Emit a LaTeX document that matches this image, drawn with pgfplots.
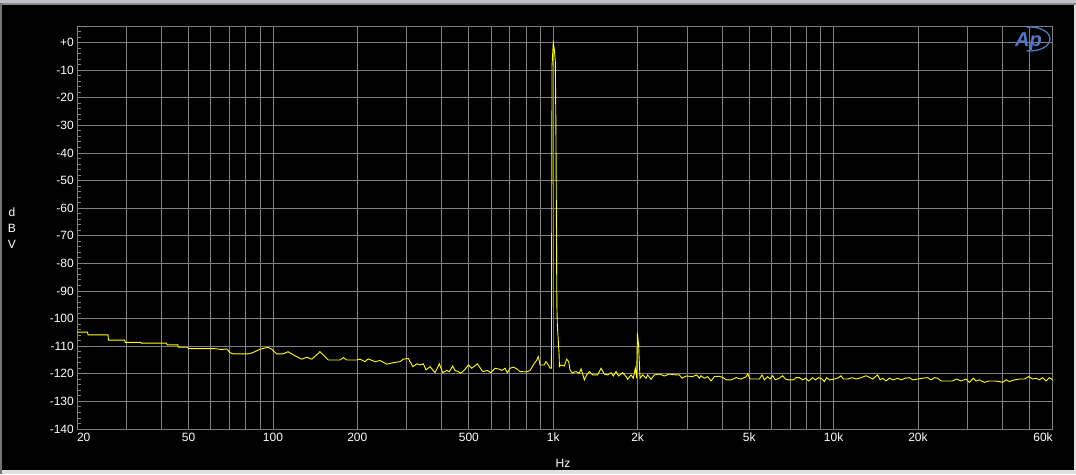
\documentclass[border=0pt]{standalone}
\usepackage{fontspec}
\setmainfont{Liberation Sans}
\usepackage{pgfplots}
\pgfplotsset{compat=1.18}
\definecolor{apblue}{RGB}{80,120,200}
\definecolor{gridgray}{RGB}{128,128,128}
\definecolor{trace}{RGB}{255,255,0}
\begin{document}
\begin{tikzpicture}[x=1pt,y=1pt]
\path[use as bounding box] (0,0) rectangle (1076,474);
\fill[gray!25] (0,0) rectangle (1076,474);
\fill[black!55] (0,0) rectangle (2,474);
\fill[black] (2,4) rectangle (1074,469);
\fill[black!45] (2,469) rectangle (1076,471);
\fill[blue!10!gray!45] (0,471) rectangle (1076,474);
\begin{axis}[
  at={(77pt,45pt)}, anchor=south west,
  scale only axis, width=975.7pt, height=403pt,
  xmode=log, xmin=20, xmax=60500, ymin=-140, ymax=6,
  axis background/.style={fill=black},
  axis line style={gridgray, line width=0.9pt},
  xtick={20,50,100,200,500,1000,2000,5000,10000,20000,60500},
  xticklabels={\makebox[0pt][l]{20},50,100,200,500,1k,2k,5k,10k,20k,\makebox[0pt][r]{60k}},
  minor xtick={30,40,60,70,80,90,300,400,600,700,800,900,3000,4000,6000,7000,8000,9000,30000,40000,50000},
  ytick={-140,-130,-120,-110,-100,-90,-80,-70,-60,-50,-40,-30,-20,-10,0},
  yticklabels={-140,-130,-120,-110,-100,-90,-80,-70,-60,-50,-40,-30,-20,-10,+0},
  minor ytick={-138,-136,...,6},
  xmajorgrids, xminorgrids, ymajorgrids,
  major grid style={gridgray, line width=0.9pt},
  minor grid style={gridgray, line width=0.9pt},
  tick pos=left, tick align=inside,
  major tick length=0pt, minor tick length=4pt,
  tick style={gridgray, line width=0.9pt},
  tick label style={text=white, font=\fontsize{12}{14}\selectfont, inner sep=0pt},
  yticklabel style={xshift=-3pt},
  xticklabel style={yshift=-4pt},
  clip=true,
]
\addplot[trace, line width=0.9pt, no markers] table {
f dB
20 -104.9
21.8 -104.9
21.9 -105.9
25.8 -105.9
25.9 -107.8
29.6 -107.8
29.7 -108.6
33.8 -108.6
33.9 -108.9
41.7 -108.9
41.9 -109.5
45.8 -109.5
46.0 -110.4
49.7 -110.4
49.9 -110.9
62.1 -110.9
65.7 -111.2
68.4 -111.0
70.3 -112.3
72 -112.8
81.5 -112.8
84.9 -112.3
89.9 -111.1
96.0 -110.4
99.0 -111.1
103.1 -112.8
108.6 -112.8
113.2 -112.0
119.9 -113.5
126.7 -114.7
132.0 -114.0
137.5 -114.7
145.2 -112.6
147 -112.0
151.3 -113.2
157.6 -115.0
173.5 -115.0
178.3 -114.1
183.3 -115.0
199.0 -115.0
204.5 -114.7
213.1 -115.6
218.4 -114.6
231.3 -115.6
241.0 -115.2
254.6 -116.5
268.1 -116.0
284.0 -115.6
291.8 -114.7
304.1 -114.4
315.3 -117.4
325.8 -116.4
334.8 -116.8
343.9 -116.4
351.7 -118.6
363.4 -117.4
378.6 -119.6
392.2 -116.4
403.3 -119.6
416.8 -118.8
425.8 -119.2
437.9 -117.2
446.2 -118.8
458.6 -119.2
467.7 -119.8
484.5 -118.4
497.8 -116.8
511.8 -118.0
535.9 -116.4
560.4 -119.2
582.0 -118.8
598.4 -119.6
619.9 -118.0
645.9 -118.4
654.9 -118.8
673.0 -118.0
685.8 -119.6
701.2 -118.0
720.5 -117.6
740.9 -118.2
761.2 -119.2
804.3 -119.3
826.4 -118.8
849.1 -116.8
873.1 -115.0
884.7 -113.8
897.1 -116.8
927.1 -116.8
942.4 -115.6
960.4 -116.8
975 -118.0
985 -118.0
990 -8.3
1000 -0.2
1009 -2.5
1017 -6.9
1022 -31
1030 -95
1034 -102.3
1048.6 -112.6
1052 -117.4
1065.9 -116.8
1095.2 -117.2
1116.1 -114.7
1134.6 -115.6
1147.8 -118.6
1166.8 -119.6
1205.8 -119.2
1238.9 -119.8
1256.3 -118.2
1290.9 -122.2
1315.5 -120.4
1345 -119.2
1382 -120.4
1439.9 -120.4
1480.6 -118.0
1521.3 -120.1
1563.2 -120.4
1607.4 -119.6
1638.1 -120.8
1674.8 -119.2
1711 -120.8
1768.2 -119.6
1818.1 -121.0
1842.1 -122.0
1894.3 -120.4
1930.5 -121.6
1962.6 -118.0
1983.6 -121.6
1997 -105.3
2016.4 -110.0
2039.8 -121.6
2083.8 -120.4
2143 -121.6
2171.2 -120.4
2232.8 -122.0
2294 -120.4
2390.2 -120.1
2490.4 -120.8
2595 -120.1
2741.6 -120.4
2817 -120.4
2880.2 -121.6
2976.4 -120.8
3142.4 -121.0
3247.4 -120.4
3320.2 -121.6
3366.8 -120.7
3459.4 -121.6
3554.4 -121.0
3655 -122.6
3755.6 -121.0
3912.8 -120.9
4043.6 -121.4
4134.4 -122.2
4307.6 -122.2
4488.2 -121.4
4676.8 -121.9
4872.8 -121.1
4937.2 -120.0
5035.4 -121.9
5216.2 -121.9
5435 -121.9
5556.8 -120.4
5662.8 -122.2
5818.4 -121.0
5934.2 -121.9
6062.4 -120.7
6198.4 -122.2
6405.2 -121.6
6581.4 -120.7
6729.2 -121.9
6914.2 -122.2
7186.4 -122.2
7347.6 -121.4
7549.4 -121.4
7756.8 -122.2
7930.8 -121.6
8149 -122.6
8421.2 -121.4
8610 -122.2
8846.6 -121.4
9097.4 -121.9
9270.6 -122.8
9447.6 -121.4
9659.6 -122.2
10065 -121.9
10426 -121.4
10634 -120.7
10836 -121.9
11227 -121.9
11639 -121.4
12028 -121.9
12532 -121.4
13058 -120.7
13494 -121.4
13785 -121.9
14363 -120.4
14649 -122.2
14965 -121.6
15389 -122.6
15812 -121.6
16340 -122.2
16928 -121.6
17407 -122.2
18033 -121.6
18635 -121.4
19147 -122.2
19951 -121.9
20787 -121.6
21658 -121.4
22271 -122.2
22884 -121.4
23512 -121.6
24178 -122.6
25192 -122.6
26596 -122.6
27484 -121.9
28496 -122.6
29690 -121.9
30506 -123.1
31526 -121.6
32232 -122.6
33118 -122.2
34506 -123.1
35952 -122.6
37460 -122.6
39032 -122.8
40104 -123.1
41240 -122.2
42372 -122.8
44150 -122.2
46000 -121.9
47930 -121.9
49652 -121.0
51312 -121.9
52764 -121.6
54216 -122.2
55704 -121.4
57286 -122.6
58862 -121.4
60500 -122.2
};
\end{axis}
\node[text=white, font=\fontsize{12}{14}\selectfont] at (563,11) {Hz};
\node[text=white, font=\fontsize{12}{14}\selectfont] at (12,262) {d};
\node[text=white, font=\fontsize{12}{14}\selectfont] at (12,246) {B};
\node[text=white, font=\fontsize{12}{14}\selectfont] at (12,230) {V};
\node[anchor=base west, inner sep=0pt, text=apblue, font=\bfseries\itshape\fontsize{20}{20}\selectfont] at (1015,427) {Ap};
\draw[apblue, line width=1.3pt] (1030,435) ++(100:20 and 12) arc[start angle=100, end angle=-100, x radius=20, y radius=12];
\end{tikzpicture}
\end{document}
